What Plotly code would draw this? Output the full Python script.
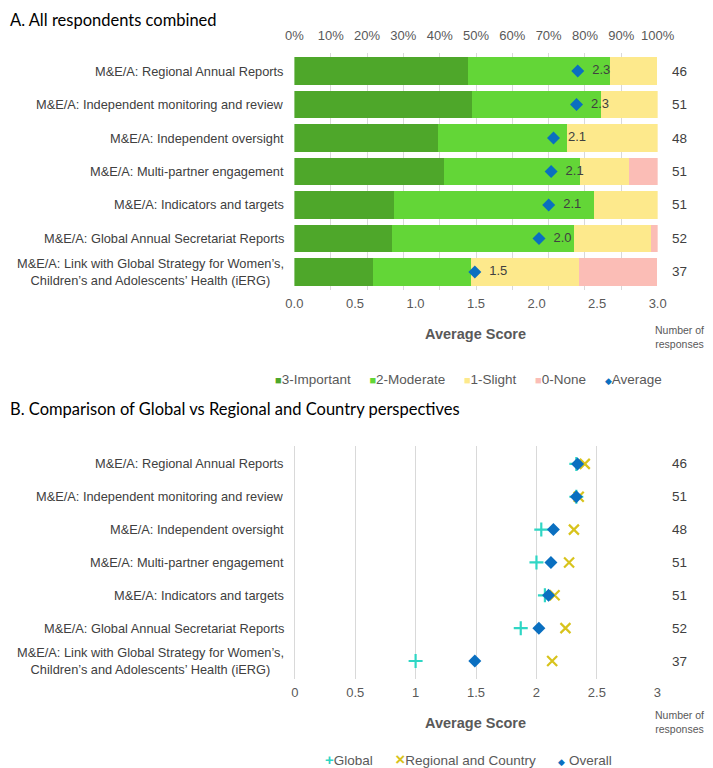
import plotly.graph_objects as go

# Kategori (urutan dari atas ke bawah)
categories = [
    "M&E/A: Regional Annual Reports",
    "M&E/A: Independent monitoring and review",
    "M&E/A: Independent oversight",
    "M&E/A: Multi-partner engagement",
    "M&E/A: Indicators and targets",
    "M&E/A: Global Annual Secretariat Reports",
    "M&E/A: Link with Global Strategy for Women’s,<br>Children’s and Adolescents’ Health (iERG)",
]

# Persentase jawaban per kategori
pct_important = [47.8, 49.0, 39.6, 41.2, 27.5, 26.9, 21.6]
pct_moderate = [39.1, 35.3, 35.4, 37.3, 54.9, 50.0, 27.0]
pct_slight = [13.0, 15.7, 25.0, 13.7, 17.6, 21.2, 29.7]
pct_none = [0.0, 0.0, 0.0, 7.8, 0.0, 1.9, 21.6]

avg_score = [2.34, 2.33, 2.14, 2.12, 2.10, 2.02, 1.49]
responses = [46, 51, 48, 51, 51, 52, 37]

# Panel B
global_score = [2.33, 2.33, 2.04, 2.00, 2.07, 1.87, 1.00]
regional_score = [2.40, 2.35, 2.31, 2.27, 2.15, 2.24, 2.13]
overall_score = avg_score

FONT = "Liberation Sans"
TXT = "#404040"
GREY = "#595959"
GRID = "#d9d9d9"

C_IMP, C_MOD, C_SLI, C_NON = "#4ea72a", "#63d637", "#fde98c", "#fbbdb6"
C_AVG, C_GLB, C_REG = "#0a6fc0", "#2fd6c4", "#d8c31c"

# Halaman HTML punya margin body 8px, jadi gambar digeser dan diperkecil 8px
OFF = 8
W, H = 713 - OFF, 768 - OFF
M = 25  # margin, supaya anotasi di tepi tidak menggeser area plot
px = lambda v: (v - OFF - M) / (W - 2 * M)
py = lambda v: 1 - (v - OFF - M) / (H - 2 * M)

x_dom = [px(296), px(661.5)]
top_dom = [py(290), py(53)]
bot_dom = [py(679), py(446)]

fig = go.Figure()

seg = [
    ("3-Important", pct_important, C_IMP),
    ("2-Moderate", pct_moderate, C_MOD),
    ("1-Slight", pct_slight, C_SLI),
    ("0-None", pct_none, C_NON),
]
for nama, vals, warna in seg:
    fig.add_trace(go.Bar(
        y=categories, x=vals, name=nama, orientation="h",
        marker=dict(color=warna, line=dict(width=0)),
        xaxis="x", yaxis="y", hoverinfo="skip",
    ))

fig.add_trace(go.Scatter(
    y=categories, x=avg_score, name="Average", mode="markers+text",
    marker=dict(symbol="diamond", color=C_AVG, size=10),
    text=[f"  {v:.1f}" for v in avg_score], textposition="middle right",
    textfont=dict(family=FONT, size=13, color=TXT),
    xaxis="x2", yaxis="y",
))

fig.add_trace(go.Scatter(
    y=categories, x=global_score, name="Global", mode="markers",
    marker=dict(symbol="cross-thin", color=C_GLB, size=10,
                line=dict(color=C_GLB, width=2.2)),
    xaxis="x3", yaxis="y2",
))
fig.add_trace(go.Scatter(
    y=categories, x=regional_score, name="Regional and Country", mode="markers",
    marker=dict(symbol="x-thin", color=C_REG, size=10,
                line=dict(color=C_REG, width=2.2)),
    xaxis="x3", yaxis="y2",
))
fig.add_trace(go.Scatter(
    y=categories, x=overall_score, name="Overall", mode="markers",
    marker=dict(symbol="diamond", color=C_AVG, size=10),
    xaxis="x3", yaxis="y2",
))

tickfont = dict(family=FONT, size=13, color=GREY)

annotations = []
# Label kategori dan jumlah responden
for yref in ["y", "y2"]:
    for c in categories:
        annotations.append(dict(
            x=px(288), xref="paper", y=c, yref=yref, text=c,
            xanchor="right", align="center", showarrow=False,
            font=dict(family=FONT, size=12.8, color=TXT),
        ))
    for c, n in zip(categories, responses):
        annotations.append(dict(
            x=px(683), xref="paper", y=c, yref=yref, text=str(n),
            xanchor="center", showarrow=False,
            font=dict(family=FONT, size=13.5, color=TXT),
        ))

for y_as, y_nr in [(334, 336.5), (723, 722)]:
    annotations.append(dict(
        x=px(478), y=py(y_as), xref="paper", yref="paper", text="<b>Average Score</b>",
        showarrow=False, xanchor="center", yanchor="middle",
        font=dict(family=FONT, size=14.5, color=GREY),
    ))
    annotations.append(dict(
        x=px(683), y=py(y_nr), xref="paper", yref="paper",
        text="Number of<br>responses", showarrow=False, xanchor="center", yanchor="middle",
        align="center", font=dict(family=FONT, size=10.5, color=GREY),
    ))

# Legenda (dibuat manual supaya rapat seperti aslinya)
def sym(ch, warna, size=11):
    return f'<span style="color:{warna};font-size:{size}px">{ch}</span>'

legend_a = "     ".join([
    sym("■", C_IMP) + "3-Important",
    sym("■", C_MOD) + "2-Moderate",
    sym("■", C_SLI) + "1-Slight",
    sym("■", C_NON) + "0-None",
    sym("◆", C_AVG, 9) + "Average",
])
legend_b = "      ".join([
    sym("<b>+</b>", C_GLB, 15) + "Global",
    sym("<b>×</b>", C_REG, 17) + "Regional and Country",
    sym("◆", C_AVG, 9) + " Overall",
])
for teks, yy in [(legend_a, 379), (legend_b, 759)]:
    annotations.append(dict(
        x=px(471), y=py(yy), xref="paper", yref="paper", text=teks,
        showarrow=False, xanchor="center", yanchor="middle",
        font=dict(family=FONT, size=13.5, color=GREY),
    ))

for teks, yy in [("A. All respondents combined", 8),
                 ("B. Comparison of Global vs Regional and Country perspectives", 409)]:
    annotations.append(dict(
        x=px(OFF), y=py(yy), xref="paper", yref="paper", text=teks,
        showarrow=False, xanchor="left", yanchor="top" if yy == 8 else "middle", align="left",
        font=dict(family="Lato, Carlito, sans-serif", size=16.5, color="#000000"),
    ))

fig.update_layout(
    width=W, height=H,
    margin=dict(l=M, r=M, t=M, b=M),
    paper_bgcolor="white", plot_bgcolor="white",
    barmode="stack", bargap=0.17,
    showlegend=False,
    xaxis=dict(domain=x_dom, anchor="y", side="top", range=[0, 100.01], dtick=10,
               ticksuffix="%", showgrid=True, gridcolor=GRID, zeroline=False,
               tickfont=tickfont, fixedrange=True, ticklabelstandoff=9),
    xaxis2=dict(domain=x_dom, anchor="y", overlaying="x", side="bottom", range=[0, 3],
                dtick=0.5, tickformat=".1f", showgrid=False, zeroline=False,
                tickfont=tickfont, ticklabelstandoff=4),
    yaxis=dict(domain=top_dom, anchor="x", autorange="reversed", showticklabels=False,
               showgrid=False, zeroline=False),
    xaxis3=dict(domain=x_dom, anchor="y2", range=[-0.003, 3.003], tickvals=[0, 0.5, 1, 1.5, 2, 2.5, 3],
                ticktext=["0", "0.5", "1", "1.5", "2", "2.5", "3"], showgrid=True,
                gridcolor=GRID, zeroline=True, zerolinecolor=GRID, zerolinewidth=1,
                tickfont=tickfont, ticklabelstandoff=4),
    yaxis2=dict(domain=bot_dom, anchor="x3", autorange="reversed", showticklabels=False,
                showgrid=False, zeroline=False),
    annotations=annotations,
)

fig.write_html("out.html")
